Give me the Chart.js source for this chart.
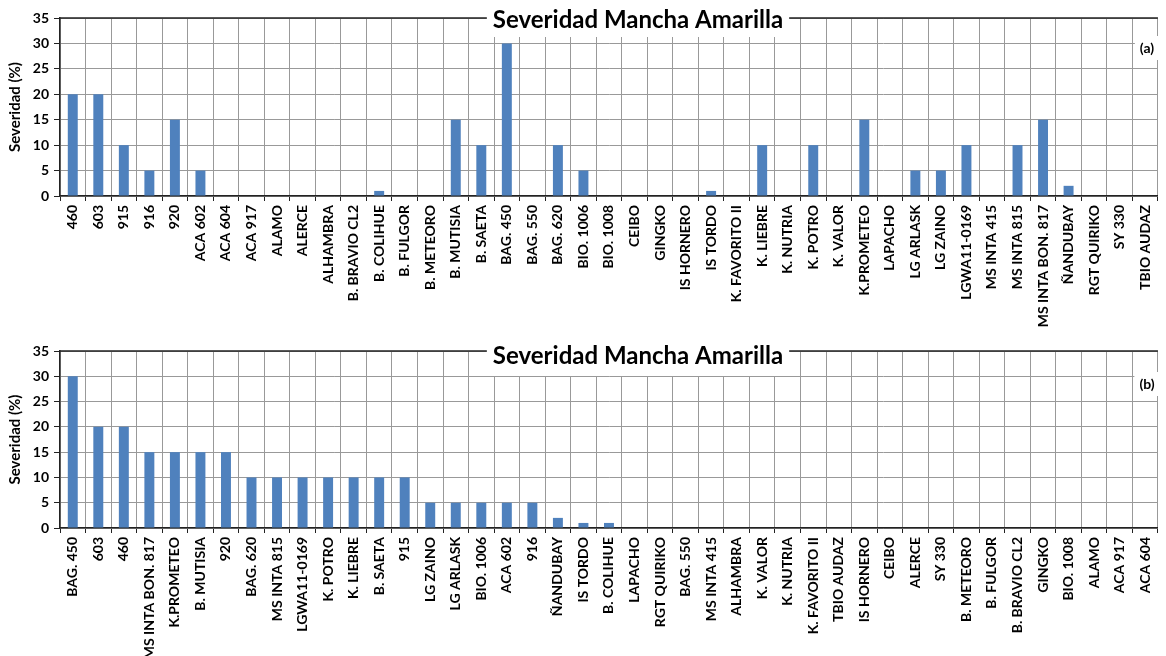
<!DOCTYPE html>
<html>
<head>
<meta charset="utf-8">
<script src="https://cdn.jsdelivr.net/npm/chart.js@4"></script>
<style>
  html, body { margin: 0; padding: 0; background: #fff; width: 1166px; height: 656px; overflow: hidden; }
  canvas { position: absolute; left: 0; }
  #ca { top: 0; }
  #cb { top: 330px; }
</style>
</head>
<body>
<canvas id="ca" width="1166" height="352"></canvas>
<canvas id="cb" width="1166" height="326"></canvas>
<script>
// ---- DATA ----
const titleText = "Severidad Mancha Amarilla";
const yAxisTitle = "Severidad (%)";
const yTicks = [0, 5, 10, 15, 20, 25, 30, 35];

const catsA = ["460","603","915","916","920","ACA 602","ACA 604","ACA 917","ALAMO","ALERCE",
  "ALHAMBRA","B. BRAVIO CL2","B. COLIHUE","B. FULGOR","B. METEORO","B. MUTISIA","B. SAETA",
  "BAG. 450","BAG. 550","BAG. 620","BIO. 1006","BIO. 1008","CEIBO","GINGKO","IS HORNERO",
  "IS TORDO","K. FAVORITO II","K. LIEBRE","K. NUTRIA","K. POTRO","K. VALOR","K.PROMETEO",
  "LAPACHO","LG ARLASK","LG ZAINO","LGWA11-0169","MS INTA 415","MS INTA 815","MS INTA BON. 817",
  "ÑANDUBAY","RGT QUIRIKO","SY 330","TBIO AUDAZ"];
const valsA = [20,20,10,5,15,5,0,0,0,0,
  0,0,1,0,0,15,10,
  30,0,10,5,0,0,0,0,
  1,0,10,0,10,0,15,
  0,5,5,10,0,10,15,
  2,0,0,0];

const catsB = ["BAG. 450","603","460","MS INTA BON. 817","K.PROMETEO","B. MUTISIA","920","BAG. 620",
  "MS INTA 815","LGWA11-0169","K. POTRO","K. LIEBRE","B. SAETA","915","LG ZAINO","LG ARLASK",
  "BIO. 1006","ACA 602","916","ÑANDUBAY","IS TORDO","B. COLIHUE","LAPACHO","RGT QUIRIKO",
  "BAG. 550","MS INTA 415","ALHAMBRA","K. VALOR","K. NUTRIA","K. FAVORITO II","TBIO AUDAZ",
  "IS HORNERO","CEIBO","ALERCE","SY 330","B. METEORO","B. FULGOR","B. BRAVIO CL2","GINGKO",
  "BIO. 1008","ALAMO","ACA 917","ACA 604"];
const valsB = [30,20,20,15,15,15,15,10,
  10,10,10,10,10,10,5,5,
  5,5,5,2,1,1,0,0,
  0,0,0,0,0,0,0,
  0,0,0,0,0,0,0,0,
  0,0,0,0];

// ---- DRAWING ----
const panelPlugin = {
  id: 'panelDeco',
  afterDraw(chart) {
    const o = chart.options.plugins.panelDeco;
    const ctx = chart.ctx;
    const a = chart.chartArea;
    ctx.save();
    // top border
    ctx.strokeStyle = '#222';
    ctx.lineWidth = 1.5;
    ctx.beginPath();
    ctx.moveTo(a.left, a.top);
    ctx.lineTo(a.right, a.top);
    ctx.stroke();
    // title box
    ctx.font = 'bold 24px Lato';
    const w = ctx.measureText(o.title).width;
    const cx = 638;
    ctx.fillStyle = '#fff';
    ctx.fillRect(cx - w / 2 - 6, a.top - 17, w + 12, o.boxBelow + 17);
    ctx.fillStyle = '#000';
    ctx.textAlign = 'center';
    ctx.textBaseline = 'middle';
    ctx.fillText(o.title, cx, a.top + o.titleDy);
    // tag
    ctx.font = 'bold 14px Lato';
    const tw = ctx.measureText(o.tag).width;
    const tx = 1147;
    const ty = a.top + o.tagDy;
    ctx.fillStyle = '#fff';
    ctx.fillRect(tx - tw / 2 - 5, ty - 12, tw + 10, 24);
    ctx.fillStyle = '#000';
    ctx.fillText(o.tag, tx, ty);
    ctx.restore();
  }
};

function makeChart(id, cats, vals, tag, padTop, axisH, titleDy, boxBelow, tagDy) {
  return new Chart(document.getElementById(id), {
    type: 'bar',
    data: {
      labels: cats,
      datasets: [{
        data: vals,
        backgroundColor: '#4F81BD',
        borderWidth: 0,
        barPercentage: 0.39,
        categoryPercentage: 1.0
      }]
    },
    plugins: [panelPlugin],
    options: {
      responsive: false,
      animation: false,
      events: [],
      layout: { padding: { top: padTop, right: 2, left: 0, bottom: 0 } },
      plugins: {
        legend: { display: false },
        tooltip: { enabled: false },
        title: { display: false },
        panelDeco: { title: titleText, tag: tag, titleDy: titleDy, boxBelow: boxBelow, tagDy: tagDy }
      },
      scales: {
        x: {
          grid: { color: '#999', lineWidth: 1, tickColor: '#222', tickLength: 5, offset: true },
          border: { color: '#222', width: 1.5 },
          ticks: {
            autoSkip: false, maxRotation: 90, minRotation: 90, padding: 4,
            color: '#000', font: { family: 'Lato', weight: 'bold', size: 14 }
          },
          afterFit(s) { s.height = axisH; }
        },
        y: {
          min: 0, max: 35,
          afterBuildTicks(s) { s.ticks = yTicks.map(v => ({ value: v })); },
          grid: { color: '#999', lineWidth: 1, tickColor: '#222', tickLength: 6 },
          border: { color: '#222', width: 1.5 },
          ticks: {
            padding: 5, color: '#000',
            font: { family: 'Lato', weight: 'bold', size: 14 }
          },
          title: {
            display: true, text: yAxisTitle, color: '#000',
            font: { family: 'Lato', weight: 'bold', size: 15 },
            padding: { top: 6, bottom: 0 }
          },
          afterFit(s) { s.width = 60; }
        }
      }
    }
  });
}

makeChart('ca', catsA, valsA, '(a)', 18, 156, 2, 19, 30);
makeChart('cb', catsB, valsB, '(b)', 21, 128, 5, 25, 33);
</script>
</body>
</html>
